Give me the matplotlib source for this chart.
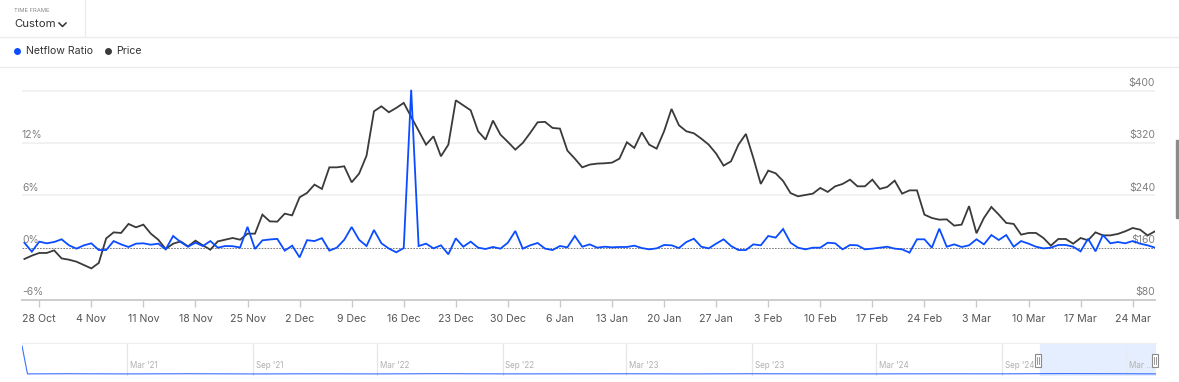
import matplotlib
matplotlib.use("Agg")
import matplotlib.pyplot as plt
import matplotlib.dates as mdates
from matplotlib.patches import Rectangle
from matplotlib.lines import Line2D
import numpy as np
import pandas as pd

plt.rcParams['font.family'] = ['Inter', 'DejaVu Sans']

# ---------------- data ----------------
start_date = "2024-10-26"
price = [
    142.7, 147.8, 151.9, 151.9, 155.9, 143.6, 141.6, 138.6, 133.5, 128.3,
    136.6, 174.2, 183.4, 182.5, 196.3, 191.1, 195.2, 181.4, 172.2, 158.0,
    166.1, 169.6, 162.0, 170.7, 163.5, 156.9, 169.6, 172.2, 174.8, 172.2,
    181.4, 181.4, 210.5, 200.2, 199.8, 212.0, 209.4, 237.0, 243.7, 256.4,
    249.8, 282.8, 282.8, 284.4, 259.9, 273.2, 300.7, 368.5, 376.1, 367.0,
    373.7, 381.3, 360.1, 339.0, 317.5, 330.2, 299.7, 317.5, 385.3, 377.7,
    370.0, 337.9, 325.2, 354.3, 332.8, 321.7, 309.9, 320.1, 335.4, 351.7,
    352.3, 343.1, 342.0, 308.4, 296.1, 282.8, 287.0, 288.5, 289.0, 290.0,
    296.1, 321.1, 312.5, 336.4, 317.5, 311.4, 337.9, 372.1, 347.1, 337.9,
    334.9, 326.7, 317.5, 303.8, 285.4, 292.0, 317.5, 333.9, 297.2, 257.4,
    277.8, 273.7, 262.0, 243.5, 238.5, 240.6, 242.6, 251.3, 245.2, 253.8,
    257.4, 264.0, 253.8, 253.8, 264.0, 249.8, 252.8, 262.5, 242.6, 247.6,
    247.6, 210.5, 205.4, 202.8, 203.3, 193.7, 195.2, 223.5, 182.0, 205.4,
    222.2, 210.5, 197.8, 196.3, 179.9, 182.5, 182.5, 174.8, 163.1, 173.3,
    173.3, 166.1, 174.8, 171.2, 183.4, 178.8, 178.8, 181.0, 185.0, 190.1,
    187.5, 178.8, 185.0,
]
netflow_ratio = [
    0.57, -0.46, 0.69, 0.50, 0.65, 0.96, 0.27, -0.11, 0.27, 0.50,
    -0.27, -0.27, 0.76, 0.38, 0.08, 0.46, 0.50, 0.34, 0.46, -0.19,
    1.34, 0.65, 0.11, 0.57, 0.19, 0.76, 0.00, 0.19, 0.17, 0.02,
    2.39, -0.15, 0.84, 0.94, 1.01, -0.34, 0.23, -1.11, 0.86, 0.76,
    1.09, -0.34, 0.00, 0.90, 2.37, 0.90, 0.19, 2.03, 0.50, -0.10,
    -0.53, -0.04, 18.1, 0.19, 0.46, -0.08, 0.27, -0.76, 1.07, 0.11,
    0.69, 0.00, -0.15, 0.08, -0.11, 0.57, 1.91, -0.11, 0.27, 0.54,
    -0.11, -0.27, 0.19, 0.04, 1.34, 0.11, 0.38, 0.00, 0.11, 0.04,
    0.08, 0.08, 0.23, -0.04, -0.19, -0.08, 0.31, 0.27, -0.04, 0.65,
    1.03, 0.11, -0.08, 0.46, 0.96, 0.19, -0.27, -0.27, 0.38, 0.27,
    1.34, 1.15, 2.14, 0.57, 0.00, -0.19, 0.00, 0.00, 0.57, 0.50,
    -0.19, 0.31, 0.27, -0.19, -0.11, 0.00, 0.11, -0.11, -0.19, -0.57,
    0.96, 0.96, 0.00, 2.18, 0.11, 0.38, 0.08, 0.27, 0.96, 0.38,
    1.45, 0.88, 1.45, 0.11, 0.76, 0.46, 0.11, -0.08, 0.00, 0.31,
    0.31, 0.11, -0.42, 1.03, -0.42, 1.45, 0.50, 0.65, 0.50, 0.76,
    0.46, 0.27, 0.00,
]
dates = pd.date_range(start_date, periods=len(price), freq="D")

pct_ticks = [-6, 0, 6, 12, 18]
pct_labels = ["-6%", "0%", "6%", "12%", ""]
price_ticks = [80, 160, 240, 320, 400]
price_labels = ["$80", "$160", "$240", "$320", "$400"]
week_ticks = pd.date_range("2024-10-28", "2025-03-24", freq="7D")

# navigator (overview) series
nav_dates = pd.to_datetime([
    "2020-09-28", "2020-10-06", "2020-12-01", "2021-03-01", "2021-06-01",
    "2021-09-01", "2021-12-01", "2022-03-01", "2022-06-01", "2022-09-01",
    "2022-12-01", "2023-03-01", "2023-06-01", "2023-09-01", "2023-12-01",
    "2024-03-01", "2024-06-01", "2024-09-01", "2024-12-01", "2025-03-01",
    "2025-04-14"])
nav_values = [100, 0.5, 1.0, 0.4, 1.0, 0.3, 0.8, 0.4, 1.2, 0.5,
              0.6, 0.9, 0.4, 1.0, 0.6, 0.5, 0.8, 0.7, 1.5, 1.0, 0.5]
nav_grid = pd.to_datetime(["2021-03-01", "2021-09-01", "2022-03-01", "2022-09-01",
                           "2023-03-01", "2023-09-01", "2024-03-01", "2024-09-01",
                           "2025-03-01"])
nav_labels = ["Mar '21", "Sep '21", "Mar '22", "Sep '22", "Mar '23",
              "Sep '23", "Mar '24", "Sep '24", "Mar ..."]

# ---------------- figure ----------------
W, H = 1179, 382
fig = plt.figure(figsize=(W / 100, H / 100), dpi=100)
fig.patch.set_facecolor("white")


def fx(x):
    return x / W


def fy(y):
    return 1 - y / H


BLUE = "#0a4cff"
DARK = "#3a3a3a"
GRID = "#ededed"

# header
fig.add_artist(Line2D([0, 1], [fy(37), fy(37)], color="#ececec", lw=1))
fig.add_artist(Line2D([fx(85), fx(85)], [fy(0), fy(37)], color="#ececec", lw=1))
fig.add_artist(Line2D([0, 1], [fy(67), fy(67)], color="#ececec", lw=1))
fig.text(fx(14), fy(10), "TIME FRAME", fontsize=4.2, color="#888888", va="center", ha="left")
fig.text(fx(14), fy(24), "Custom", fontsize=8.2, color="#333333", va="center", ha="left")
fig.add_artist(Line2D([fx(59), fx(62.5), fx(66)], [fy(23), fy(26.5), fy(23)],
                      color="#333333", lw=1.1))
# legend
fig.add_artist(Line2D([fx(17)], [fy(51)], marker="o", markersize=5, color=BLUE,
                      markeredgewidth=0))
fig.text(fx(25.5), fy(51), "Netflow Ratio", fontsize=7.6, color="#333333", va="center", ha="left")
fig.add_artist(Line2D([fx(108)], [fy(51)], marker="o", markersize=5, color=DARK,
                      markeredgewidth=0))
fig.text(fx(116), fy(51), "Price", fontsize=7.6, color="#333333", va="center", ha="left")

# scrollbar
fig.add_artist(Rectangle((fx(1176), fy(218)), 3 / W, 78 / H, color="#8a8a8a",
                         transform=fig.transFigure))

# ---------------- main axes ----------------
left, right, top, bottom = 22, 1155, 88, 300
ax = fig.add_axes([fx(left), fy(bottom), (right - left) / W, (bottom - top) / H])
ax2 = ax.twinx()

ax.set_ylim(80, 404.1)
ax2.set_ylim(-6, 18.31)

x0 = mdates.date2num(pd.Timestamp(start_date)) - 0.32
x1 = mdates.date2num(dates[-1])
ax.set_xlim(x0, x1)

for a in (ax, ax2):
    for s in a.spines.values():
        s.set_visible(False)
    a.set_facecolor("none")
ax.spines["bottom"].set_visible(True)
ax.spines["bottom"].set_color("#c9c9c9")
ax.spines["bottom"].set_linewidth(1.3)

for t in price_ticks[2:]:
    ax.axhline(t, color=GRID, lw=1.1, zorder=0)
ax2.axhline(0, color="#666666", lw=0.6, ls=(0, (2, 1.5)), zorder=1)

ax.plot(dates, price, color=DARK, lw=1.3, zorder=2, solid_joinstyle="miter")
ax2.plot(dates, netflow_ratio, color=BLUE, lw=1.3, zorder=3, solid_joinstyle="miter")

ax.set_yticks([])
ax2.set_yticks([])
ax.set_xticks(week_ticks)
ax.xaxis.set_major_formatter(mdates.DateFormatter("%-d %b"))
ax.tick_params(axis="x", length=5, width=1, color="#c9c9c9", labelsize=7.6,
               labelcolor="#555555", pad=5)

for v, lab in zip(pct_ticks, pct_labels):
    if lab:
        ax2.annotate(lab, xy=(0, v), xycoords=("axes fraction", "data"),
                     xytext=(0, 2), textcoords="offset points",
                     fontsize=7.5, color="#808080", ha="left", va="bottom")
for v, lab in zip(price_ticks, price_labels):
    ax.annotate(lab, xy=(1, v), xycoords=("axes fraction", "data"),
                xytext=(0, 2), textcoords="offset points",
                fontsize=7.5, color="#808080", ha="right", va="bottom")

# ---------------- navigator ----------------
nav = fig.add_axes([fx(22), fy(376), (1156 - 22) / W, (376 - 343) / H])
nav.set_xlim(mdates.date2num(pd.Timestamp("2020-09-28")),
             mdates.date2num(pd.Timestamp("2025-04-14")))
nav.set_ylim(-7, 110)
for s in nav.spines.values():
    s.set_visible(False)
nav.spines["top"].set_visible(True)
nav.spines["top"].set_color("#eeeeee")
nav.set_xticks([])
nav.set_yticks([])
nav.axvspan(pd.Timestamp("2024-10-26"), pd.Timestamp("2025-04-14"),
            color="#e5eefe", zorder=0)
for d, lab in zip(nav_grid, nav_labels):
    ls = ":" if d > pd.Timestamp("2024-10-26") else "-"
    nav.axvline(d, color="#e6e6e6", lw=0.9, ls=ls, zorder=0.5)
    nav.annotate(lab, xy=(d, 0), xycoords=("data", "axes fraction"),
                 xytext=(2, 4.5), textcoords="offset points",
                 fontsize=5.8, color="#b0b0b0", ha="left", va="bottom")
nav.plot(nav_dates, nav_values, color=BLUE, lw=0.8, alpha=0.8, zorder=2)

# navigator handles
for hx in (1038, 1155):
    fig.add_artist(Rectangle((fx(hx - 3), fy(367)), 6 / W, 13 / H,
                             facecolor="white", edgecolor="#8a8a8a", lw=0.8,
                             transform=fig.transFigure, zorder=5))
    for dx in (-0.8, 0.8):
        fig.add_artist(Line2D([fx(hx + dx), fx(hx + dx)], [fy(357), fy(364)],
                              color="#8a8a8a", lw=0.6, zorder=6))

fig.savefig("out.png", dpi=100, facecolor="white")
